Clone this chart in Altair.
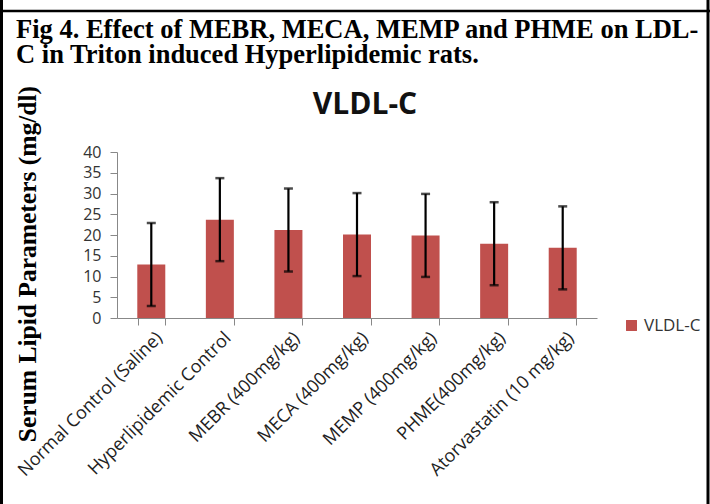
import altair as alt
import pandas as pd

categories = ["Normal Control (Saline)", "Hyperlipidemic Control", "MEBR (400mg/kg)",
              "MECA  (400mg/kg)", "MEMP (400mg/kg)", "PHME(400mg/kg)", "Atorvastatin (10 mg/kg)"]
values = [12.9, 23.7, 21.2, 20.1, 19.9, 17.9, 16.9]
errors = [10, 10, 10, 10, 10, 10, 10]
series = "VLDL-C"
yticks = [0, 5, 10, 15, 20, 25, 30, 35, 40]

df = pd.DataFrame({"cat": categories, "v": values, "e": errors})
df["lo"] = df["v"] - df["e"]
df["hi"] = df["v"] + df["e"]
df["s"] = series

W, H = 480, 166
LEFT, TOP = 117, 152

xaxis = alt.Axis(labelAngle=-45, labelFontSize=18, labelFont="Open Sans",
                 labelColor="#222", tickBand="extent", tickColor="#888",
                 domainColor="#888", tickSize=7, labelPadding=10, labelOffset=8,
                 labelLimit=0, labelAlign="right", labelBaseline="middle",
                 labelOverlap=False, title=None)
yaxis = alt.Axis(values=yticks, grid=False, labelFontSize=16, labelFont="Open Sans",
                 labelColor="#333", tickColor="#888", domainColor="#888", tickSize=7,
                 labelPadding=9, labelOverlap=False, title=None)
xscale = alt.Scale(paddingInner=0.6, paddingOuter=0.3)
yscale = alt.Scale(domain=[0, 40], nice=False)


def X():
    return alt.X("cat:N", sort=categories, scale=xscale, axis=xaxis, title=None)


def Y(field):
    return alt.Y(field, scale=yscale, axis=yaxis, title=None)


base = alt.Chart(df)
bars = base.mark_bar(size=28).encode(
    x=X(), y=Y("v:Q"),
    color=alt.Color("s:N", scale=alt.Scale(domain=[series], range=["#C0504D"]),
                    legend=alt.Legend(title=None, orient="none", legendX=506, legendY=165,
                                      symbolType="square", symbolSize=120,
                                      labelFontSize=17, labelFont="Open Sans",
                                      labelColor="#333", symbolStrokeWidth=0)))
rule = base.mark_rule(color="black", strokeWidth=2.2).encode(
    x=X(), y=Y("lo:Q"), y2="hi:Q")
caps_hi = base.mark_tick(color="black", thickness=2.5, size=9).encode(x=X(), y=Y("hi:Q"))
caps_lo = base.mark_tick(color="black", thickness=2.5, size=9).encode(x=X(), y=Y("lo:Q"))

ann = pd.DataFrame({"k": [0]})
title = alt.Chart(ann).mark_text(text="VLDL-C", font="Open Sans", fontWeight="bold",
                                 fontSize=30, baseline="alphabetic", align="center",
                                 color="#111").encode(
    x=alt.value(365 - LEFT), y=alt.value(114 - TOP))
cap1 = alt.Chart(ann).mark_text(text="Fig 4. Effect of MEBR, MECA, MEMP and PHME on LDL-",
                                font="Liberation Serif", fontWeight="bold", fontSize=26.5,
                                baseline="alphabetic", align="left", color="black").encode(
    x=alt.value(16 - LEFT), y=alt.value(38 - TOP))
cap2 = alt.Chart(ann).mark_text(text="C in Triton induced Hyperlipidemic rats.",
                                font="Liberation Serif", fontWeight="bold", fontSize=26.5,
                                baseline="alphabetic", align="left", color="black").encode(
    x=alt.value(16 - LEFT), y=alt.value(63 - TOP))
ytitle = alt.Chart(ann).mark_text(text="Serum Lipid Parameters (mg/dl)",
                                  font="Liberation Serif", fontWeight="bold", fontSize=25.5,
                                  angle=270, baseline="middle", align="center",
                                  color="black").encode(
    x=alt.value(28 - LEFT), y=alt.value(264 - TOP))
topline = alt.Chart(ann).mark_rule(color="black", strokeWidth=2.5).encode(
    x=alt.value(0 - LEFT), x2=alt.value(710 - LEFT), y=alt.value(11 - TOP))
leftline = alt.Chart(ann).mark_rule(color="black", strokeWidth=3).encode(
    x=alt.value(1.5 - LEFT), y=alt.value(0 - TOP), y2=alt.value(504 - TOP))
rightline = alt.Chart(ann).mark_rule(color="black", strokeWidth=3).encode(
    x=alt.value(708 - LEFT), y=alt.value(0 - TOP), y2=alt.value(504 - TOP))

chart = alt.layer(bars, rule, caps_hi, caps_lo, title, cap1, cap2, ytitle,
                  topline, leftline, rightline).properties(
    width=W, height=H,
    background="white",
    autosize=alt.AutoSizeParams(type="none"),
    padding={"left": LEFT, "top": TOP, "right": 710 - LEFT - W, "bottom": 504 - TOP - H},
).configure_view(stroke=None, strokeWidth=0)

chart.save("out.html", embed_options={"renderer": "svg", "actions": False})
